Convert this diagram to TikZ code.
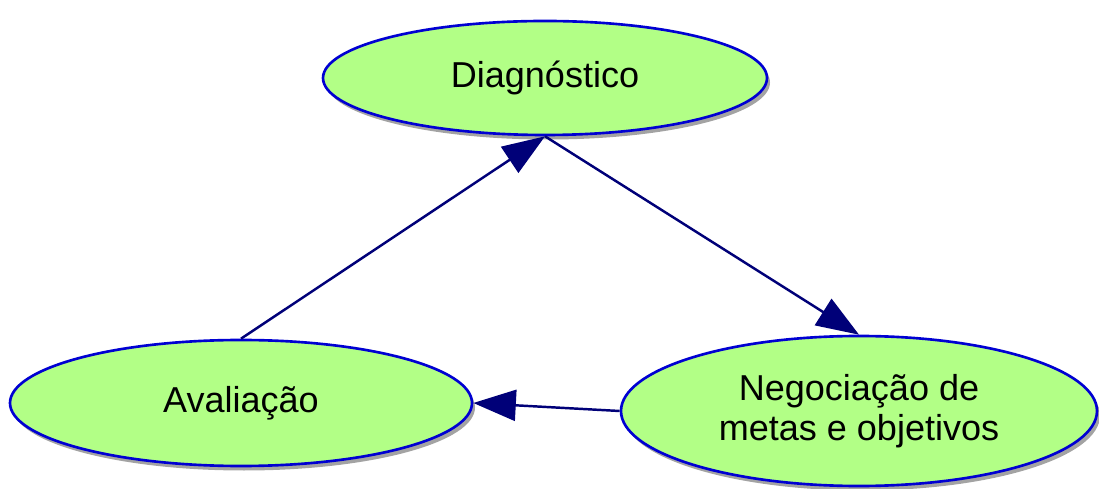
\documentclass[tikz,border=0pt]{standalone}
\usepackage{fontspec}
\setmainfont{Liberation Sans}
\usepackage{tikz}
\usetikzlibrary{shapes.geometric, arrows.meta, shadows}
\definecolor{fillgreen}{RGB}{178, 255, 134}
\definecolor{rimblue}{RGB}{0, 0, 210}
\definecolor{arrownavy}{RGB}{0, 0, 120}

\begin{document}
\begin{tikzpicture}[
	etapa/.style={ellipse, draw=rimblue, line width=1.5pt, fill=fillgreen, inner sep=0pt,
		align=center, font=\fontsize{20.5}{23}\selectfont,
		drop shadow={shadow xshift=0.06cm, shadow yshift=-0.09cm, fill=black!60, opacity=0.6}},
	seta/.style={draw=arrownavy, line width=1.4pt, -{Triangle[length=0.85cm, width=0.62cm]}, arrownavy}]
	\useasboundingbox (0,0) rectangle (21.98,9.76);
	\node[etapa, minimum width=8.88cm, minimum height=2.28cm] (diag) at (10.9,8.2) {Diagnóstico};
	\node[etapa, minimum width=9.24cm, minimum height=2.52cm] (aval) at (4.82,1.70) {Avaliação};
	\node[etapa, minimum width=9.52cm, minimum height=3.0cm] (negoc) at (17.18,1.54) {Negociação de\\metas e objetivos};
	\draw[seta] (aval.north) -- (diag.south);
	\draw[seta] (diag.south) -- (negoc.north);
	\draw[seta] (negoc.west) -- (aval.east);
\end{tikzpicture}
\end{document}
